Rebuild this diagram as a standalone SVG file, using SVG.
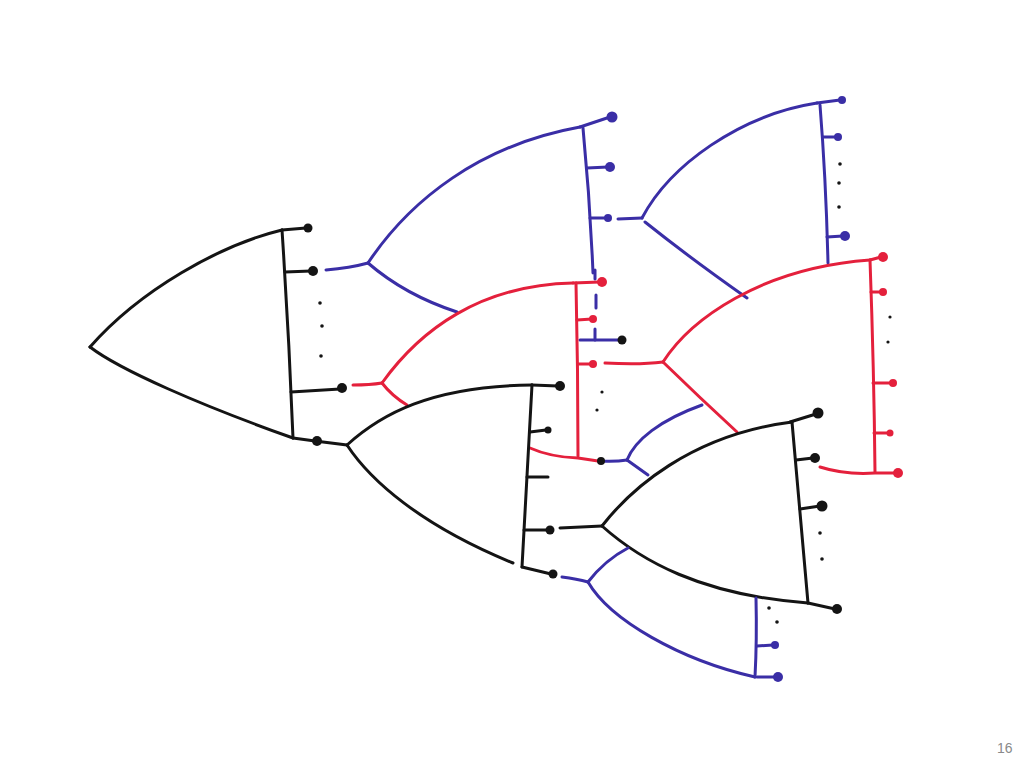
<svg xmlns="http://www.w3.org/2000/svg" width="1024" height="768" viewBox="0 0 1024 768">
<style>
.k{fill:none;stroke:#141414;stroke-width:3;stroke-linecap:round;stroke-linejoin:round}
.b{fill:none;stroke:#3a2ea6;stroke-width:3;stroke-linecap:round;stroke-linejoin:round}
.r{fill:none;stroke:#e4203c;stroke-width:3;stroke-linecap:round;stroke-linejoin:round}
.kd{fill:#141414}.bd{fill:#3a2ea6}.rd{fill:#e4203c}
.num{font-family:"Liberation Sans",Arial,sans-serif;font-size:14px;fill:#8a8a8a}
</style>
<rect width="1024" height="768" fill="#fff"/>

<g id="tree-black-1">
<path class="k" d="M90,347 C140,290 220,245 282,230"/>
<path class="k" d="M90,347 C120,370 200,405 293,438"/>
<path class="k" d="M282,230 Q289,335 293,438"/>
<path class="k" d="M282,230 L306,228"/>
<path class="k" d="M285,272 L311,271"/>
<path class="k" d="M291,392 L340,389"/>
<circle class="kd" cx="308" cy="228" r="4.5"/>
<circle class="kd" cx="313" cy="271" r="5"/>
<circle class="kd" cx="342" cy="388" r="5"/>
<circle class="kd" cx="320" cy="303" r="1.8"/>
<circle class="kd" cx="322" cy="326" r="1.8"/>
<circle class="kd" cx="321" cy="356" r="1.8"/>
</g>

<g id="tree-blue-A">
<path class="b" d="M368,263 C410,200 480,145 580,127"/>
<path class="b" d="M368,263 Q405,295 457,312"/>
<path class="b" d="M583,128 Q590,200 593,273"/>
<path class="b" d="M580,127 L610,117"/>
<path class="b" d="M587,168 L608,167"/>
<path class="b" d="M590,218 L606,218"/>
<path class="b" d="M595,270 L595,279 M596,295 L596,308 M595,329 L595,340"/>
<path class="b" d="M580,340 L620,340"/>
<circle class="bd" cx="612" cy="117" r="5.5"/>
<circle class="bd" cx="610" cy="167" r="5"/>
<circle class="bd" cx="608" cy="218" r="4"/>
<circle class="kd" cx="622" cy="340" r="4.5"/>
</g>

<g id="tree-blue-B">
<path class="b" d="M642,218 C670,165 740,115 817,103"/>
<path class="b" d="M645,222 Q690,258 747,298"/>
<path class="b" d="M820,105 Q826,180 828,263"/>
<path class="b" d="M817,103 L840,100"/>
<path class="b" d="M823,137 L836,137"/>
<path class="b" d="M827,237 L843,236"/>
<circle class="bd" cx="842" cy="100" r="4"/>
<circle class="bd" cx="838" cy="137" r="4"/>
<circle class="bd" cx="845" cy="236" r="5"/>
<circle class="kd" cx="840" cy="164" r="1.8"/>
<circle class="kd" cx="839" cy="183" r="1.8"/>
<circle class="kd" cx="839" cy="207" r="1.8"/>
</g>

<g id="tree-red-1">
<path class="r" d="M382,383 C420,330 480,285 573,283"/>
<path class="r" d="M382,383 Q392,396 407,405"/>
<path class="r" d="M576,283 Q578,370 578,456"/>
<path class="r" d="M573,283 L600,282"/>
<path class="r" d="M577,320 L592,319"/>
<path class="r" d="M578,364 L592,364"/>
<path class="r" d="M530,448 Q550,457 578,458 L598,461"/>
<circle class="rd" cx="602" cy="282" r="5"/>
<circle class="rd" cx="593" cy="319" r="4"/>
<circle class="rd" cx="593" cy="364" r="4"/>
<circle class="kd" cx="602" cy="392" r="1.6"/>
<circle class="kd" cx="597" cy="410" r="1.6"/>
</g>

<g id="tree-red-2">
<path class="r" d="M663,362 C690,320 760,268 870,260"/>
<path class="r" d="M663,362 Q700,398 737,432"/>
<path class="r" d="M870,260 Q874,370 875,472"/>
<path class="r" d="M870,260 L881,257"/>
<path class="r" d="M871,292 L882,292"/>
<path class="r" d="M873,383 L892,383"/>
<path class="r" d="M874,433 L889,433"/>
<path class="r" d="M820,467 Q845,475 875,473 L896,473"/>
<circle class="rd" cx="883" cy="257" r="5"/>
<circle class="rd" cx="883" cy="292" r="4"/>
<circle class="rd" cx="893" cy="383" r="4"/>
<circle class="rd" cx="890" cy="433" r="3.5"/>
<circle class="rd" cx="898" cy="473" r="5"/>
<circle class="kd" cx="890" cy="317" r="1.6"/>
<circle class="kd" cx="888" cy="342" r="1.6"/>
</g>

<g id="tree-black-2">
<path class="k" d="M347,445 C380,415 430,386 532,385"/>
<path class="k" d="M347,445 C370,480 420,525 513,563"/>
<path class="k" d="M532,385 Q527,480 522,567"/>
<path class="k" d="M532,385 L558,386"/>
<path class="k" d="M530,432 L546,430"/>
<path class="k" d="M527,477 L548,477"/>
<path class="k" d="M524,530 L548,530"/>
<path class="k" d="M522,567 L551,574"/>
<circle class="kd" cx="560" cy="386" r="5"/>
<circle class="kd" cx="548" cy="430" r="3.5"/>
<circle class="kd" cx="550" cy="530" r="4.5"/>
<circle class="kd" cx="553" cy="574" r="4.5"/>
</g>

<g id="tree-black-3">
<path class="k" d="M602,526 C630,490 690,435 792,422"/>
<path class="k" d="M602,526 C640,560 700,595 808,603"/>
<path class="k" d="M792,422 Q800,510 808,603"/>
<path class="k" d="M790,422 L816,414"/>
<path class="k" d="M796,460 L813,458"/>
<path class="k" d="M800,509 L820,506"/>
<path class="k" d="M808,603 L835,609"/>
<circle class="kd" cx="818" cy="413" r="5.5"/>
<circle class="kd" cx="815" cy="458" r="5"/>
<circle class="kd" cx="822" cy="506" r="5.5"/>
<circle class="kd" cx="837" cy="609" r="5"/>
<circle class="kd" cx="820" cy="533" r="1.8"/>
<circle class="kd" cx="822" cy="559" r="1.8"/>
</g>

<g id="tree-blue-C">
<path class="b" d="M627,460 C635,440 660,420 702,405"/>
<path class="b" d="M627,460 L648,475"/>
</g>

<g id="tree-blue-D">
<path class="b" d="M588,582 Q605,560 628,548"/>
<path class="b" d="M588,582 C610,620 680,660 755,677"/>
<path class="b" d="M755,677 Q757,640 756,598"/>
<path class="b" d="M757,646 L773,645"/>
<path class="b" d="M757,677 L776,677"/>
<circle class="bd" cx="775" cy="645" r="4"/>
<circle class="bd" cx="778" cy="677" r="5"/>
<circle class="kd" cx="769" cy="608" r="1.8"/>
<circle class="kd" cx="777" cy="622" r="1.8"/>
</g>

<g id="connectors">
<path class="k" d="M293,438 L315,441 L347,445"/>
<circle class="kd" cx="317" cy="441" r="5"/>
<path class="b" d="M326,270 Q350,268 368,263"/>
<path class="r" d="M353,385 Q370,385 382,383"/>
<path class="b" d="M618,219 L642,218"/>
<path class="r" d="M605,363 Q640,365 663,362"/>
<path class="b" d="M600,461 Q615,462 627,460"/>
<circle class="kd" cx="601" cy="461" r="4"/>
<path class="k" d="M560,528 L602,526"/>
<path class="b" d="M562,577 Q577,579 588,582"/>
</g>

<text class="num" x="997" y="753">16</text>
</svg>
